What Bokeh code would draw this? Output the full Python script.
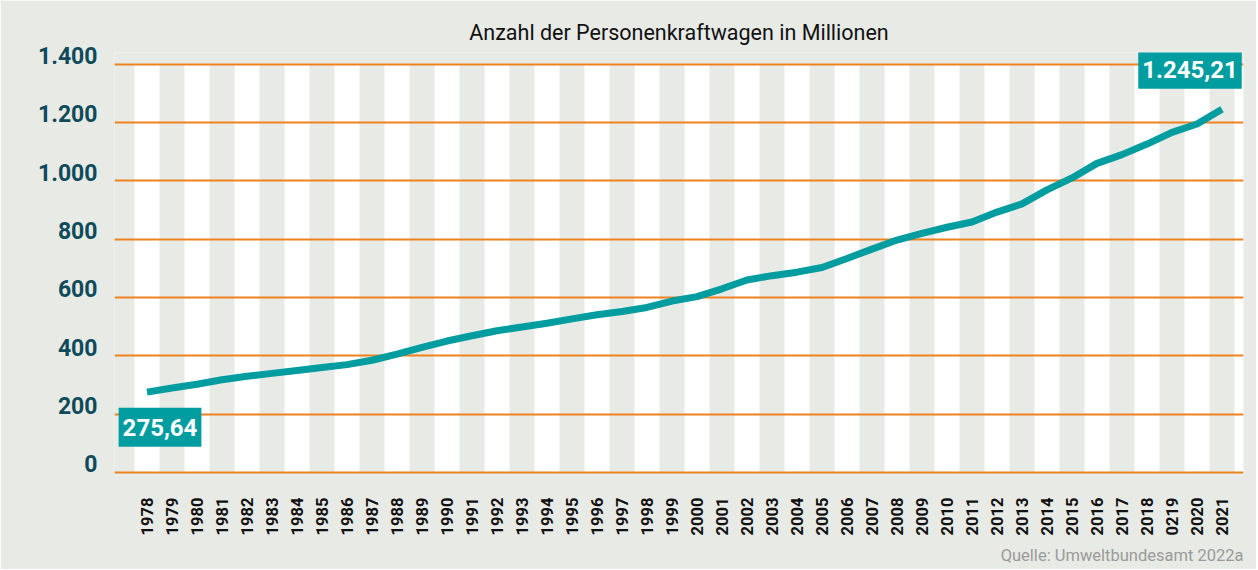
import math
from bokeh.plotting import figure
from bokeh.models import FixedTicker, Label, Title, Range1d
from bokeh.embed import file_html
from bokeh.resources import INLINE

# ---------------- data ----------------
years = list(range(1978, 2022))
year_labels = ["1978", "1979", "1980", "1981", "1982", "1983", "1984", "1985", "1986", "1987",
               "1988", "1989", "1990", "1991", "1992", "1993", "1994", "1995", "1996", "1997",
               "1998", "1999", "2000", "2001", "2002", "2003", "2004", "2005", "2006", "2007",
               "2008", "2009", "2010", "2011", "2012", "2013", "2014", "2015", "2016", "2017",
               "2018", "0219", "2020", "2021"]
cars = [275.64, 290, 303, 318, 330, 340, 350, 360, 370, 385,
        406, 429, 451, 469, 486, 499, 512, 527, 541, 552,
        566, 588, 603, 630, 660, 675, 687, 703, 734, 766,
        797, 820, 841, 859, 893, 921, 969, 1010, 1060, 1090,
        1126, 1166, 1195, 1245.21]
y_ticks = [0, 200, 400, 600, 800, 1000, 1200, 1400]
y_tick_labels = ["0", "200", "400", "600", "800", "1.000", "1.200", "1.400"]
first_label = "275,64"
last_label = "1.245,21"
title_text = "Anzahl der Personenkraftwagen in Millionen"
source_text = "Quelle: Umweltbundesamt 2022a"

# ---------------- style ----------------
GRAY = "#E8EAE5"
TEAL = "#009DA0"
ORANGE = "#EE821E"
NAVY = "#0E4A5A"
FONT = "Roboto"
label_lift = 30  # y-tick labels sit on their grid line (baseline on line)

p = figure(frame_width=1129, frame_height=423,
           x_range=Range1d(1976.7, 2021.86), y_range=Range1d(-10, 1440),
           output_backend="svg", toolbar_location=None,
           min_border_left=114, min_border_right=13, min_border_top=52, min_border_bottom=93,
           background_fill_color=GRAY, border_fill_color=GRAY, outline_line_color=None)

# alternating white year columns
stripe_years = years[0::2] + [years[-1] + 1]
p.vbar(x=stripe_years, width=1, bottom=y_ticks[0], top=y_ticks[-1],
       fill_color="white", line_color=None)

# orange grid lines
p.hspan(y=y_ticks, line_color=ORANGE, line_width=2)
p.xgrid.visible = False
p.ygrid.visible = False

# data line
p.line(years, cars, line_color=TEAL, line_width=7)

# axes
p.xaxis.ticker = FixedTicker(ticks=years)
p.xaxis.major_label_overrides = {y: l for y, l in zip(years, year_labels)}
p.xaxis.major_label_orientation = math.pi / 2
p.xaxis.major_label_text_font = FONT
p.xaxis.major_label_text_font_size = "16.5px"
p.xaxis.major_label_text_font_style = "bold"
p.xaxis.major_label_text_color = "#111111"
p.xaxis.major_label_standoff = 16

p.yaxis.ticker = FixedTicker(ticks=[t + label_lift for t in y_ticks])
p.yaxis.major_label_overrides = {t + label_lift: l for t, l in zip(y_ticks, y_tick_labels)}
p.yaxis.major_label_text_font = FONT
p.yaxis.major_label_text_font_size = "23px"
p.yaxis.major_label_text_font_style = "bold"
p.yaxis.major_label_text_color = NAVY
p.yaxis.major_label_standoff = 11

for ax in (p.xaxis, p.yaxis):
    ax.axis_line_color = None
    ax.major_tick_line_color = None
    ax.minor_tick_line_color = None

# title and source
p.title.text = title_text
p.title.align = "center"
p.title.text_font = FONT
p.title.text_font_size = "21.5px"
p.title.text_font_style = "normal"
p.title.text_color = "#111111"
p.title.standoff = 16

p.add_layout(Title(text=source_text, align="right", text_font=FONT,
                   text_font_size="16.5px",
                   text_font_style="normal", text_color="#9A9A9A"), "below")

# value boxes
for xv, yv, txt, xo, yo in [(years[0], cars[0], first_label, 13, -35),
                            (years[-1], cars[-1], last_label, -32, 40)]:
    p.add_layout(Label(x=xv, y=yv, text=txt, x_offset=xo, y_offset=yo,
                       text_align="center", text_baseline="middle",
                       text_font=FONT, text_font_size="24px", text_font_style="bold",
                       text_color="white", background_fill_color=TEAL,
                       padding=(4, 11)))

open("out.html", "w").write(file_html(p, INLINE))
